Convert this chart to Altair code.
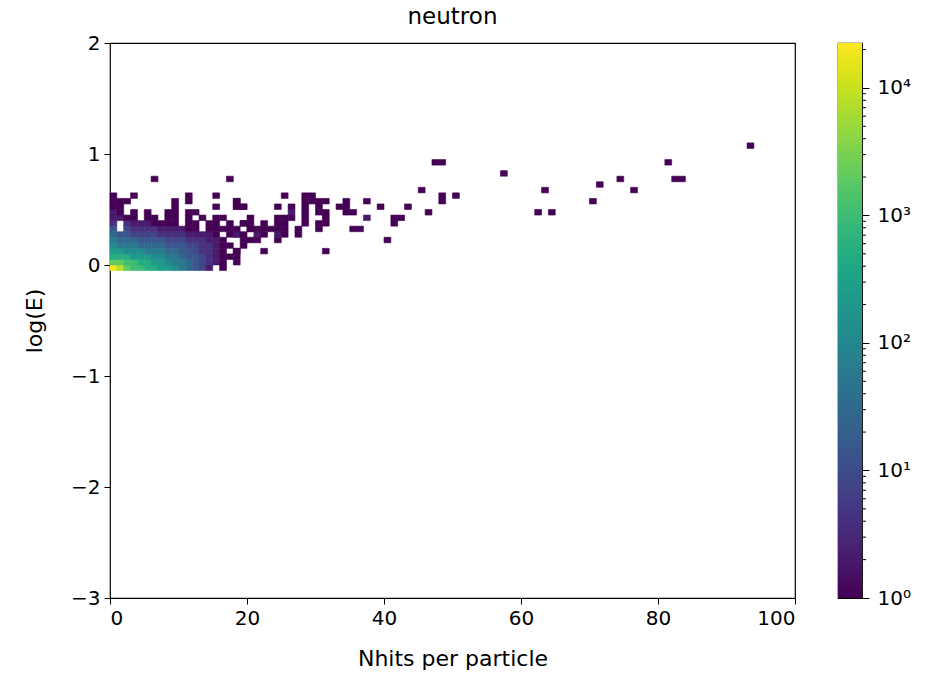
import math
import altair as alt
import pandas as pd

# Histogram binning: 1 hit per column, 0.05 in log(E) per row
X_BIN = 1.0
Y_BIN = 0.05

# Count levels used in the dense core (character -> entries per bin)
LEVEL_CHARS = ["1", "2", "3", "4", "5", "6", "7", "8", "9", "a", "b", "c", "d", "e", "f"]
LEVEL_COUNTS = [1, 2, 4, 8, 15, 30, 60, 120, 250, 500, 1000, 2000, 4000, 8000, 20000]

# Dense core near the origin: one string per log(E) row, one character per Nhits column (x = 0, 1, 2, ...)
CORE_ROWS_K = [-1, 0, 1, 2, 3, 4, 5, 6, 7, 8, 9, 10, 11, 12]
CORE_ROWS = [
    "fecbbaa99876542.1.",
    "ccbbaa99877654321 1",
    "aaa9998877655432111",
    "99888777665543321.1",
    "877766665554433211.1",
    "76665555444333221 .11",
    "6554444333322221.11.",
    "5.43333222211.1111..1",
    "3.32221111.11.11.1.1",
    "2211.11.11.1.1.11...",
    "21.1.1..11.11.......",
    "11.......1.....1..11",
    "111......1.1......1.",
    "1..1.......1...1....",
]

# Sparse bins away from the core: Nhits column, log(E) row, entries
SPARSE_X = [6, 17, 18, 19, 18, 18, 18, 19, 18, 19, 20, 20, 20, 21, 21, 21, 22, 22, 22, 23, 22,
            24, 24, 24, 24, 24, 25, 25, 25, 24, 25, 26, 26, 26, 25, 27, 27, 28, 28, 28, 28, 28,
            29, 28, 30, 30, 30, 29, 31, 30, 31, 31, 31, 30, 31, 33, 34, 34, 34, 35, 35, 36, 37,
            37, 39, 40, 41, 41, 42, 43, 45, 46, 48, 48, 50, 47, 48, 57, 62, 63, 64, 70, 71, 74,
            76, 81, 82, 83, 93]
SPARSE_K = [15, 15, 10, 10, 11, 2, 5, 5, 6, 7, 6, 7, 8, 5, 6, 4, 5, 6, 7, 6, 2,
            4, 5, 6, 7, 8, 5, 6, 7, 10, 12, 8, 9, 10, 8, 5, 6, 7, 8, 9, 10, 11,
            12, 12, 9, 10, 11, 11, 11, 7, 7, 8, 9, 6, 2, 10, 11, 9, 10, 9, 6, 6, 11,
            8, 10, 4, 7, 8, 8, 10, 13, 9, 11, 12, 12, 18, 18, 16, 9, 13, 9, 11, 14, 15,
            13, 18, 15, 15, 21]
SPARSE_N = [1, 1, 1, 1, 1, 1, 2, 1, 1, 1, 1, 1, 1, 2, 1, 1, 1, 1, 1, 1, 1,
            1, 2, 1, 1, 1, 1, 1, 1, 1, 1, 1, 2, 1, 1, 1, 1, 1, 1, 1, 1, 1,
            1, 1, 1, 1, 1, 1, 1, 1, 1, 1, 1, 1, 1, 1, 1, 1, 1, 1, 1, 1, 1,
            2, 1, 1, 1, 1, 1, 1, 1, 1, 1, 1, 1, 1, 1, 1, 1, 1, 1, 1, 1, 1,
            1, 1, 1, 1, 1]

# Colour bar ticks
CBAR_MAX = 22500
MAJOR_TICKS = [1, 10, 100, 1000, 10000]
MINOR_TICKS = [m * 10 ** e for e in range(5) for m in range(2, 10) if m * 10 ** e <= CBAR_MAX]

level_of = dict(zip(LEVEL_CHARS, LEVEL_COUNTS))
rows = []
for k, line in zip(CORE_ROWS_K, CORE_ROWS):
    for ix, ch in enumerate(line):
        if ch in level_of:
            rows.append((ix, k, level_of[ch]))
for ix, k, n in zip(SPARSE_X, SPARSE_K, SPARSE_N):
    rows.append((ix, k, n))

hist = pd.DataFrame(rows, columns=["ix", "k", "count"])
hist["x0"] = hist["ix"] * X_BIN
hist["x1"] = (hist["ix"] + 1) * X_BIN
hist["y0"] = hist["k"] * Y_BIN
hist["y1"] = (hist["k"] + 1) * Y_BIN

color_scale = alt.Scale(type="log", scheme="viridis", domain=[1, CBAR_MAX])

main = alt.Chart(hist).mark_rect(strokeWidth=0.6).encode(
    x=alt.X("x0:Q", scale=alt.Scale(domain=[0, 100], nice=False, zero=False),
            axis=alt.Axis(values=[0, 20, 40, 60, 80, 100], title="Nhits per particle", titlePadding=20)),
    x2="x1:Q",
    y=alt.Y("y0:Q", scale=alt.Scale(domain=[-3, 2], nice=False, zero=False),
            axis=alt.Axis(values=[-3, -2, -1, 0, 1, 2], title="log(E)", titlePadding=24)),
    y2="y1:Q",
    color=alt.Color("count:Q", scale=color_scale, legend=None),
    stroke=alt.Stroke("count:Q", scale=color_scale, legend=None),
).properties(
    width=685, height=555,
    title=alt.TitleParams("neutron", frame="group", fontSize=23, fontWeight="normal", offset=4),
)

# Colour bar: overlapping log-spaced strips spanning the colour scale
log_max = math.log10(CBAR_MAX)
cbar_y_scale = alt.Scale(type="log", domain=[1, CBAR_MAX], nice=False)
cbar_axis = alt.Axis(orient="right", values=MAJOR_TICKS, title=None, grid=False,
                     domain=False, tickSize=7, labelPadding=8,
                     labelExpr="'10' + ['⁰','¹','²','³','⁴'][round(log(datum.value) / LN10)]")
strips = alt.Chart(alt.sequence(0, 300, 1, as_="i")).transform_calculate(
    lo=f"pow(10, datum.i * {log_max} / 300)",
    hi=f"pow(10, min(datum.i + 2, 300) * {log_max} / 300)",
).mark_rect(strokeWidth=0).encode(
    y=alt.Y("lo:Q", scale=cbar_y_scale, axis=cbar_axis),
    y2="hi:Q",
    x=alt.value(0),
    x2=alt.value(24),
    color=alt.Color("lo:Q", scale=color_scale, legend=None),
)
minor = alt.Chart(pd.DataFrame({"lo": MINOR_TICKS})).mark_rule(color="black", strokeWidth=1).encode(
    y=alt.Y("lo:Q", scale=cbar_y_scale, axis=cbar_axis),
    x=alt.value(24),
    x2=alt.value(28),
)
cbar = alt.layer(strips, minor).properties(width=24, height=555)

chart = alt.hconcat(main, cbar, spacing=40).properties(
    padding={"left": 22, "top": 5, "right": 5, "bottom": 3},
).configure(
    font="DejaVu Sans",
).configure_view(
    stroke="black", strokeWidth=1.2,
).configure_axis(
    domain=False, grid=False,
    labelFont="DejaVu Sans", labelFontSize=20, labelColor="black",
    titleFont="DejaVu Sans", titleFontSize=22, titleFontWeight="normal", titleColor="black",
    tickColor="black", tickSize=6, labelPadding=4, titlePadding=10,
).configure_title(font="DejaVu Sans", color="black")

chart.save("out.html", embed_options={"renderer": "svg", "actions": False})
